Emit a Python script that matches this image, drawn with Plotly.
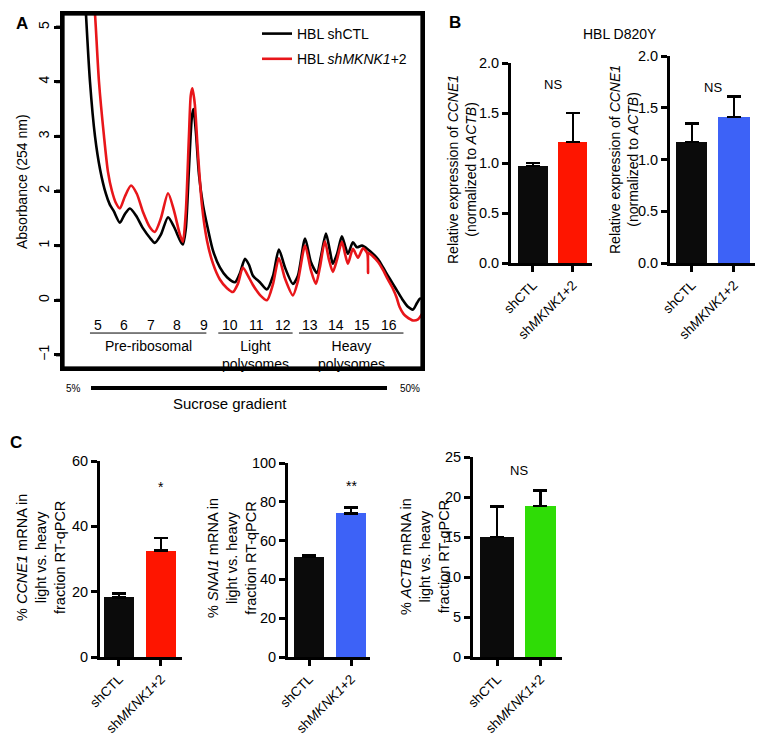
import plotly.graph_objects as go

W, H = 768, 748
def fx(p): return p / W
def fy(p): return 1 - p / H

FONT = "Liberation Sans, Arial, Helvetica, sans-serif"

# ---------------- Panel A data (polysome profile) ----------------
black_x = [4.53, 4.70, 4.89, 5.08, 5.30, 5.45, 5.60, 5.83, 6.02, 6.21, 6.44, 6.70, 6.97, 7.15,
           7.38, 7.65, 7.87, 8.10, 8.21, 8.32, 8.44, 8.55, 8.61, 8.70, 8.82, 8.97, 9.16, 9.35,
           9.61, 9.88, 10.18, 10.37, 10.56, 10.71, 10.86, 11.12, 11.39, 11.62, 11.84, 12.07,
           12.37, 12.56, 12.83, 13.05, 13.28, 13.43, 13.62, 13.77, 13.88, 14.04, 14.22, 14.34,
           14.45, 14.64, 14.79, 14.98, 15.21, 15.40, 15.59, 15.78, 15.96, 16.15, 16.34, 16.53,
           16.72, 16.91, 17.06, 17.17, 17.29]
black_y = [5.4, 4.0, 3.0, 2.4, 1.95, 1.75, 1.63, 1.42, 1.58, 1.68, 1.55, 1.32, 1.14, 1.05,
           1.2, 1.52, 1.35, 1.1, 1.02, 1.3, 2.4, 3.35, 3.5, 3.1, 2.3, 1.75, 1.3, 0.91,
           0.6, 0.42, 0.33, 0.5, 0.76, 0.65, 0.45, 0.33, 0.2, 0.45, 0.93, 0.6,
           0.3, 0.45, 1.13, 0.7, 0.5, 0.8, 1.22, 0.9, 0.67, 0.85, 1.17, 1.0,
           0.85, 1.06, 0.97, 1.0, 0.93, 0.85, 0.75, 0.6, 0.45, 0.3, 0.15, 0.0,
           -0.12, -0.17, -0.05, 0.03, 0.03]

red_x = [4.87, 4.92, 5.04, 5.23, 5.38, 5.53, 5.68, 5.83, 6.02, 6.25, 6.47, 6.70, 6.97, 7.15,
         7.38, 7.65, 7.87, 8.10, 8.21, 8.32, 8.44, 8.51, 8.57, 8.66, 8.78, 8.93, 9.12, 9.35,
         9.61, 9.88, 10.10, 10.29, 10.48, 10.67, 10.86, 11.12, 11.39, 11.62, 11.84, 12.07,
         12.37, 12.56, 12.83, 13.05, 13.24, 13.39, 13.58, 13.73, 13.88, 14.04, 14.22, 14.34,
         14.45, 14.64, 14.83, 15.02, 15.18, 15.21, 15.24, 15.40, 15.59, 15.78, 15.96, 16.15,
         16.29, 16.40, 16.55, 16.66, 16.91, 17.10, 17.25, 17.30]
red_y = [5.4, 5.0, 4.0, 3.0, 2.35, 2.0, 1.78, 1.68, 1.9, 2.1, 1.95, 1.62, 1.33, 1.25,
         1.5, 1.96, 1.65, 1.2, 1.07, 1.6, 3.0, 3.75, 3.88, 3.6, 2.7, 1.75, 1.1, 0.67,
         0.38, 0.22, 0.15, 0.3, 0.6, 0.45, 0.28, 0.1, 0.0, 0.3, 0.77, 0.4,
         0.09, 0.35, 1.0, 0.55, 0.3, 0.6, 1.08, 0.75, 0.52, 0.75, 1.07, 0.85,
         0.67, 0.94, 0.78, 0.95, 0.86, 0.5, 0.86, 0.8, 0.7, 0.55, 0.38, 0.21,
         0.05, -0.12, -0.25, -0.3, -0.37, -0.35, -0.25, -0.22]

fractions = list(range(5, 17))
a_ticks = [-1, 0, 1, 2, 3, 4, 5]
a_ticktext = ["\u22121", "0", "1", "2", "3", "4", "5"]
a_yrange = [-1.24, 5.24]
group_labels = ["Pre-ribosomal", "Light<br>polysomes", "Heavy<br>polysomes"]
group_spans = [(4.7, 9.1), (9.55, 12.36), (12.6, 16.55)]

# ---------------- Bar chart data ----------------
categories = ["shCTL", "sh<i>MKNK1</i>+2"]
b1_vals = [0.97, 1.21]; b1_err = [0.03, 0.29]
b2_vals = [1.17, 1.41]; b2_err = [0.18, 0.20]
c1_vals = [18.3, 32.6]; c1_err = [1.2, 3.8]
c2_vals = [51.5, 74.0]; c2_err = [1.0, 3.2]
c3_vals = [15.0, 18.9]; c3_err = [3.8, 1.9]
sig_b1, sig_b2, sig_c1, sig_c2, sig_c3 = "NS", "NS", "*", "**", "NS"

BLACK = "#0b0b0b"
RED = "#fe1500"
BLUE = "#3d62f7"
GREEN = "#2fdc06"

fig = go.Figure()

fig.add_trace(go.Scatter(x=black_x, y=black_y, mode="lines", name="HBL shCTL",
                         line=dict(color="black", width=2.6, shape="spline", smoothing=0.7),
                         xaxis="x", yaxis="y", legendgroup="a"))
fig.add_trace(go.Scatter(x=red_x, y=red_y, mode="lines", name="HBL <i>shMKNK1</i>+2",
                         line=dict(color="#e8161a", width=2.6, shape="spline", smoothing=0.7),
                         xaxis="x", yaxis="y", legendgroup="b"))

# Frame of panel A, drawn on a hidden overlay axis pair (0..1 = plot box), on top
tick_len = 7 / 359
fr_x, fr_y = [0, 1, 1, 0, 0], [0, 0, 1, 1, 0]
for t in a_ticks:
    v = (t - a_yrange[0]) / (a_yrange[1] - a_yrange[0])
    fr_x += [None, -tick_len, 0]
    fr_y += [None, v, v]
fig.add_trace(go.Scatter(x=fr_x, y=fr_y, mode="lines", line=dict(color="#000000", width=3),
                         xaxis="x7", yaxis="y7", showlegend=False, hoverinfo="skip",
                         connectgaps=False))

def add_bars(vals, errs, color, ax, widths):
    fig.add_trace(go.Bar(
        x=[0, 1], y=vals, width=widths, marker=dict(color=[BLACK, color], line=dict(width=0)),
        error_y=dict(type="data", symmetric=False, array=errs, arrayminus=[0, 0],
                     color="black", thickness=2.6, width=7),
        xaxis="x" + ax, yaxis="y" + ax, showlegend=False))

add_bars(b1_vals, b1_err, RED, "2", [0.75, 0.72])
add_bars(b2_vals, b2_err, BLUE, "3", [0.74, 0.74])
add_bars(c1_vals, c1_err, RED, "4", [0.72, 0.72])
add_bars(c2_vals, c2_err, BLUE, "5", [0.70, 0.72])
add_bars(c3_vals, c3_err, GREEN, "6", [0.80, 0.70])

layout = dict(
    template="none",
    width=W, height=H, autosize=False,
    margin=dict(l=0, r=0, t=0, b=0, pad=0, autoexpand=False),
    paper_bgcolor="white", plot_bgcolor="rgba(0,0,0,0)",
    font=dict(family=FONT, color="black", size=13),
    showlegend=True, bargap=0,
    legend=dict(x=fx(257), y=fy(18), xanchor="left", yanchor="top",
                bgcolor="rgba(0,0,0,0)", font=dict(size=14, family=FONT),
                tracegroupgap=4, traceorder="grouped", itemwidth=30, borderwidth=0),
)

# Panel A axes
layout["xaxis"] = dict(domain=[fx(63), fx(422)], range=[3.68, 17.25], showticklabels=False,
                       ticks="", showgrid=False, zeroline=False, showline=True, mirror="allticks",
                       linewidth=2.5, linecolor="#000000", anchor="y", automargin=False)
layout["yaxis"] = dict(domain=[fy(368), fy(14)], range=a_yrange, tickvals=a_ticks,
                       ticktext=a_ticktext, tickangle=-90, ticks="outside", ticklen=6,
                       tickwidth=2.5, tickcolor="#000000", showline=True, mirror=True,
                       linewidth=2.5, linecolor="#000000",
                       showgrid=False, zeroline=False, anchor="x",
                       tickfont=dict(size=14), automargin=False)
# hidden overlay axes for the frame: 0 -> px 63, 1 -> px 422 ; 0 -> py 368, 1 -> py 14
layout["xaxis7"] = dict(domain=[fx(52), fx(426)], range=[-11 / 359, 1 + 4 / 359],
                        visible=False, anchor="y7", automargin=False)
layout["yaxis7"] = dict(domain=[fy(372), fy(10)], range=[-4 / 354, 1 + 4 / 354],
                        visible=False, anchor="x7", automargin=False)

def bar_axes(n, xd, yd, xr, yr, dtick, fmt=None):
    layout["xaxis" + n] = dict(domain=[fx(xd[0]), fx(xd[1])], range=xr, tickvals=[0, 1],
                               ticktext=categories, tickangle=-45, ticks="outside", ticklen=6,
                               tickwidth=2.5, showline=True, linewidth=2.8, linecolor="black",
                               tickcolor="black", showgrid=False, zeroline=False, anchor="y" + n,
                               tickfont=dict(size=13.5), automargin=False)
    yax = dict(domain=[fy(yd[0]), fy(yd[1])], range=yr, dtick=dtick, tick0=0, ticks="outside",
               ticklen=6, tickwidth=2.5, showline=True, linewidth=2.8, linecolor="black",
               tickcolor="black", showgrid=False, zeroline=False, anchor="x" + n,
               tickfont=dict(size=14.5), automargin=False)
    if fmt:
        yax["tickformat"] = fmt
    layout["yaxis" + n] = yax

bar_axes("2", (511, 592), (263, 63), [-0.55, 1.48], [0, 2], 0.5, ".1f")
bar_axes("3", (670, 755), (263, 56), [-0.52, 1.5], [0, 2], 0.5, ".1f")
bar_axes("4", (100, 182), (657, 461), [-0.45, 1.5], [0, 60], 20)
bar_axes("5", (288, 370), (657, 463), [-0.5, 1.45], [0, 100], 20)
bar_axes("6", (473, 562), (657, 457), [-0.56, 1.5], [0, 25], 5)

fig.update_layout(**layout)

ann = []
shapes = []

# Panel A frame as paper shapes too (belt and braces)
L, R, T, B = fx(63), fx(422), fy(14), fy(368)
shapes.append(dict(type="rect", xref="paper", yref="paper", x0=L, x1=R, y0=B, y1=T,
                   line=dict(color="#000000", width=2.5)))

# Panel letters
ann.append(dict(x=fx(22), y=fy(23), text="<b>A</b>", font=dict(size=17)))
ann.append(dict(x=fx(455), y=fy(22), text="<b>B</b>", font=dict(size=17)))
ann.append(dict(x=fx(16), y=fy(442), text="<b>C</b>", font=dict(size=17)))

# Panel A y title
ann.append(dict(x=fx(22), y=fy(182), text="Absorbance (254 nm)", textangle=-90, font=dict(size=14)))

# fraction numbers and groups
for f in fractions:
    ann.append(dict(x=f, y=-0.45, xref="x", yref="y", text=str(f), font=dict(size=14)))
for lab, (a, b) in zip(group_labels, group_spans):
    shapes.append(dict(type="line", xref="x", yref="y", x0=a, x1=b, y0=-0.6, y1=-0.6,
                       line=dict(color="black", width=1)))
    ann.append(dict(x=(a + b) / 2, y=-0.66, xref="x", yref="y", text=lab, yanchor="top",
                    font=dict(size=14)))

# sucrose gradient bar
shapes.append(dict(type="line", xref="paper", yref="paper", x0=fx(91), x1=fx(387),
                   y0=fy(388), y1=fy(388), line=dict(color="black", width=4)))
ann.append(dict(x=fx(73), y=fy(388), text="5%", font=dict(size=10)))
ann.append(dict(x=fx(410), y=fy(388), text="50%", font=dict(size=10)))
ann.append(dict(x=fx(230), y=fy(403), text="Sucrose gradient", font=dict(size=15)))

# Panel B
ann.append(dict(x=fx(620), y=fy(34), text="HBL D820Y", font=dict(size=14)))
ann.append(dict(x=fx(462), y=fy(170), textangle=-90,
                text="Relative expression of <i>CCNE1</i><br>(normalized to <i>ACTB</i>)",
                font=dict(size=14)))
ann.append(dict(x=fx(624), y=fy(160), textangle=-90,
                text="Relative expression of <i>CCNE1</i><br>(normalized to <i>ACTB</i>)",
                font=dict(size=14)))
ann.append(dict(x=0.5, y=1.79, xref="x2", yref="y2", text=sig_b1, font=dict(size=13)))
ann.append(dict(x=0.5, y=1.7, xref="x3", yref="y3", text=sig_b2, font=dict(size=13)))

# Panel C
ann.append(dict(x=fx(41), y=fy(558), textangle=-90,
                text="% <i>CCNE1</i> mRNA in<br>light vs. heavy<br>fraction RT-qPCR",
                font=dict(size=14.5)))
ann.append(dict(x=fx(232), y=fy(558), textangle=-90,
                text="% <i>SNAI1</i> mRNA in<br>light vs. heavy<br>fraction RT-qPCR",
                font=dict(size=14.5)))
ann.append(dict(x=fx(425), y=fy(557), textangle=-90,
                text="% <i>ACTB</i> mRNA in<br>light vs. heavy<br>fraction RT-qPCR",
                font=dict(size=14.5)))
ann.append(dict(x=1, y=52, xref="x4", yref="y4", text=sig_c1, font=dict(size=14)))
ann.append(dict(x=1, y=88, xref="x5", yref="y5", text=sig_c2, font=dict(size=14)))
ann.append(dict(x=0.5, y=23.3, xref="x6", yref="y6", text=sig_c3, font=dict(size=13)))

for a in ann:
    a.setdefault("xref", "paper")
    a.setdefault("yref", "paper")
    a.setdefault("showarrow", False)
    a.setdefault("xanchor", "center")
    a.setdefault("yanchor", "middle")

fig.update_layout(annotations=ann, shapes=shapes)
fig.write_html("out.html", config={"displayModeBar": False},
               post_script="document.body.style.margin='0px';document.body.style.overflow='hidden';")
